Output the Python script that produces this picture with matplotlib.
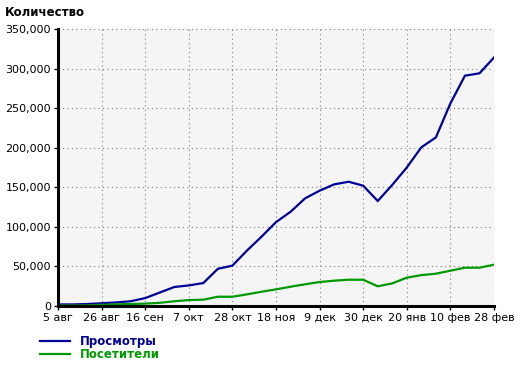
import matplotlib
matplotlib.use("Agg")
import matplotlib.pyplot as plt
from matplotlib.ticker import FuncFormatter

# weekly points, 5 авг .. 28 фев
tick_labels = ["5 авг", "26 авг", "16 сен", "7 окт", "28 окт", "18 ноя",
               "9 дек", "30 дек", "20 янв", "10 фев", "28 фев"]

views = [2000, 2000, 2500, 3500, 4500, 6000, 10000, 17000, 24000, 26000,
         29000, 47000, 51000, 70000, 87500, 106000, 119000, 136000, 145700, 153700,
         157000, 152000, 132700, 153000, 175000, 200500, 213000, 256000, 291000, 294000,
         314000]
visitors = [500, 600, 800, 1500, 2000, 2500, 3000, 4000, 6000, 7500,
            8000, 11700, 11700, 14700, 18000, 21000, 24400, 27400, 30300, 32000,
            33200, 33200, 24900, 28600, 35800, 39000, 40800, 44600, 48400, 48400,
            52200]

blue = "#000099"
green = "#009900"

plt.rcParams['font.family'] = ['DejaVu Sans']
fig = plt.figure(figsize=(5.2, 3.66), dpi=100)
ax = fig.add_axes([58 / 520, 60 / 366, 436 / 520, 277 / 366])
ax.set_facecolor("#f5f5f5")

x = list(range(len(views)))
ax.plot(x, views, color=blue, lw=1.6, solid_joinstyle="miter")
ax.plot(x, visitors, color=green, lw=1.6, solid_joinstyle="miter")

ax.set_xlim(0, len(views) - 1)
ax.set_ylim(0, 350000)
ax.set_xticks(range(0, len(views), 3))
ax.set_xticklabels(tick_labels)
ax.set_yticks(range(0, 350001, 50000))
ax.yaxis.set_major_formatter(FuncFormatter(lambda v, p: f"{int(v):,}"))
ax.tick_params(labelsize=8, length=3, width=1, color="black", pad=2)
ax.grid(True, ls=(0, (1, 3)), color="#808080", lw=0.8)
for s in ["top", "right"]:
    ax.spines[s].set_visible(False)
for s in ["left", "bottom"]:
    ax.spines[s].set_linewidth(2.2)

fig.text(5 / 520, 1 - 12 / 366, "Количество", fontsize=8.5, fontweight="bold",
         va="center", ha="left")

# legend
for i, (name, col) in enumerate([("Просмотры", blue), ("Посетители", green)]):
    yy = 1 - (341 + i * 13) / 366
    fig.add_artist(plt.Line2D([40 / 520, 70 / 520], [yy, yy], color=col, lw=1.6))
    fig.text(80 / 520, yy, name, color=col, fontsize=8.5, fontweight="bold",
             va="center", ha="left")

fig.savefig("out.png", dpi=100)
